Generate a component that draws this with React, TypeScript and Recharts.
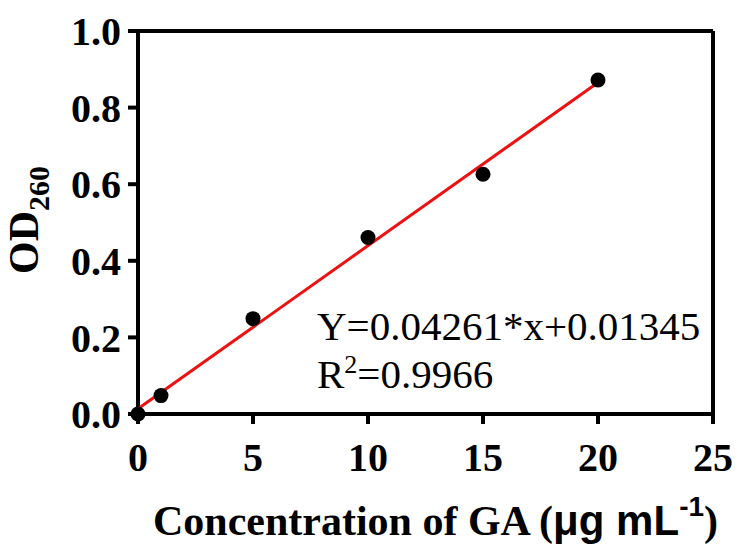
import React from "react";
import { ComposedChart, Scatter, XAxis, YAxis, ReferenceLine, Label } from "recharts";

const concentrations = [0, 1, 5, 10, 15, 20];
const odValues = [0, 0.048, 0.249, 0.461, 0.626, 0.872];
const fitX = [0, 20];
const fitY = [0.0135, 0.8657];
const xTicks = [0, 5, 10, 15, 20, 25];
const yTicks = [0, 0.2, 0.4, 0.6, 0.8, 1.0];
const equationText = "Y=0.04261*x+0.01345";
const r2Label = "R";
const r2Value = "=0.9966";

const points = concentrations.map((x, i) => ({ x, y: odValues[i] }));
const fitLine = fitX.map((x, i) => ({ x, y: fitY[i] }));

const SERIF = "'Liberation Serif', 'Times New Roman', serif";
const SANS = "'Liberation Sans', Arial, sans-serif";

const tickStyle = { fontFamily: SERIF, fontWeight: "bold", fontSize: 40, fill: "#000" };

const Dot = (props: any) => <circle cx={props.cx} cy={props.cy} r={7.5} fill="#000" />;
const NoDot = () => <g />;

const XLabelContent = (props: any) => {
  const vb = props.viewBox || { x: 138, y: 414, width: 575, height: 133 };
  const cx = vb.x + vb.width / 2 + 10;
  return (
    <g>
      <text x={cx} y={535} textAnchor="middle" fontFamily={SERIF} fontWeight="bold" fontSize={42} fill="#000">
        <tspan>Concentration of GA (</tspan>
        <tspan fontFamily={SANS}>μg mL</tspan>
        <tspan fontFamily={SANS} fontSize={28} dy={-19}>-1</tspan>
        <tspan dy={19}>)</tspan>
      </text>
      <text x={317} y={340} fontFamily={SERIF} fontSize={41} fill="#000">{equationText}</text>
      <text x={317} y={388} fontFamily={SERIF} fontSize={41} fill="#000">
        <tspan>{r2Label}</tspan>
        <tspan fontSize={26} dy={-15}>2</tspan>
        <tspan dy={15}>{r2Value}</tspan>
      </text>
    </g>
  );
};

const YLabelContent = () => {
  return (
    <text x={38} y={274} transform="rotate(-90 38 274)" fontFamily={SERIF} fontWeight="bold" fontSize={42} fill="#000">
      <tspan>OD</tspan>
      <tspan fontSize={30} dy={11}>260</tspan>
    </text>
  );
};

export default function App() {
  return (
    <div style={{ position: "absolute", left: 0, top: 0, width: 740, height: 547, background: "#fff" }}>
      <ComposedChart width={740} height={547} margin={{ top: 31, right: 27, bottom: 0, left: 0 }}>
        <XAxis
          type="number"
          dataKey="x"
          domain={[0, 25]}
          ticks={xTicks}
          interval={0}
          height={133}
          axisLine={{ stroke: "#000", strokeWidth: 4 }}
          tickLine={{ stroke: "#000", strokeWidth: 4 }}
          tickSize={10}
          tickMargin={19}
          tick={tickStyle}
        >
          <Label content={XLabelContent} />
        </XAxis>
        <YAxis
          type="number"
          dataKey="y"
          domain={[0, 1]}
          ticks={yTicks}
          interval={0}
          width={138}
          axisLine={{ stroke: "#000", strokeWidth: 4 }}
          tickLine={{ stroke: "#000", strokeWidth: 4 }}
          tickSize={10}
          tickMargin={7}
          tick={tickStyle}
          tickFormatter={(v: number) => v.toFixed(1)}
        >
          <Label content={YLabelContent} />
        </YAxis>
        <ReferenceLine y={1} stroke="#000" strokeWidth={4} />
        <ReferenceLine x={25} stroke="#000" strokeWidth={4} />
        <Scatter
          data={fitLine}
          line={{ stroke: "#ee1111", strokeWidth: 3 }}
          shape={NoDot}
          isAnimationActive={false}
        />
        <Scatter data={points} shape={Dot} isAnimationActive={false} />
      </ComposedChart>
    </div>
  );
}
